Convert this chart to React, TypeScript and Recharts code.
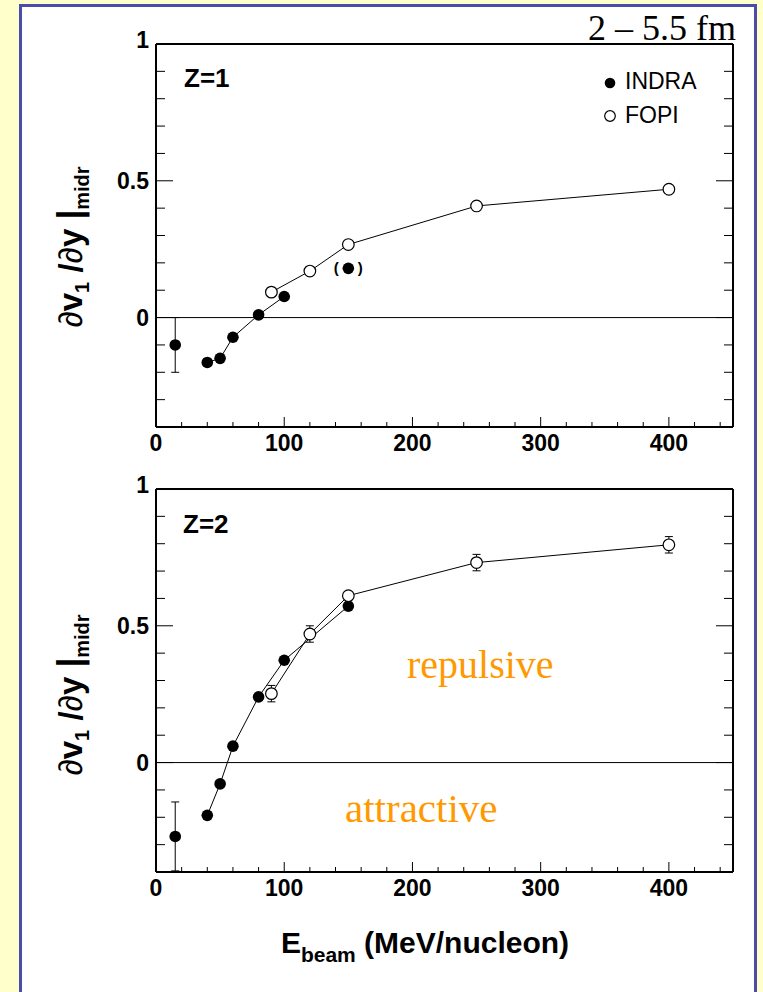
import React from "react";
import { ScatterChart, Scatter, XAxis, YAxis, ReferenceLine, ErrorBar } from "recharts";

// axis ticks
const xTicks = [0, 20, 40, 60, 80, 100, 120, 140, 160, 180, 200, 220, 240, 260, 280, 300, 320, 340, 360, 380, 400, 420, 440];
const yTicks = [-0.4, -0.3, -0.2, -0.1, 0, 0.1, 0.2, 0.3, 0.4, 0.5, 0.6, 0.7, 0.8, 0.9, 1];

// Z=1
const z1IndraLow = [{ e: 15, v: -0.1, err: 0.1 }];
const z1Indra = [
  { e: 40, v: -0.164 },
  { e: 50, v: -0.149 },
  { e: 60, v: -0.072 },
  { e: 80, v: 0.01 },
  { e: 100, v: 0.077 },
];
const z1IndraBracket = [{ e: 150, v: 0.18 }];
const z1Fopi = [
  { e: 90, v: 0.093 },
  { e: 120, v: 0.17 },
  { e: 150, v: 0.267 },
  { e: 250, v: 0.408 },
  { e: 400, v: 0.469 },
];

// Z=2
const z2IndraLow = [{ e: 15, v: -0.27, err: 0.126 }];
const z2Indra = [
  { e: 40, v: -0.193 },
  { e: 50, v: -0.078 },
  { e: 60, v: 0.06 },
  { e: 80, v: 0.24 },
  { e: 100, v: 0.374 },
  { e: 150, v: 0.572 },
];
const z2Fopi = [
  { e: 90, v: 0.252, err: 0.03 },
  { e: 120, v: 0.47, err: 0.03 },
  { e: 150, v: 0.61 },
  { e: 250, v: 0.731, err: 0.03 },
  { e: 400, v: 0.796, err: 0.03 },
];

const SANS = "Liberation Sans, Arial, sans-serif";
const SERIF = "Liberation Serif, Times New Roman, serif";

const isMajorX = (v: number) => v % 100 === 0;
const isMajorY = (v: number) => Math.abs(v * 2 - Math.round(v * 2)) < 1e-9;
const fmtY = (v: number) => (Math.abs(v) < 1e-9 ? "0" : String(Math.round(v * 10) / 10));

const XTickBottom = (p: any) => {
  const major = isMajorX(p.payload.value);
  return (
    <g>
      <line x1={p.x} x2={p.x} y1={p.y} y2={p.y - (major ? 10 : 5)} stroke="#000" strokeWidth={1} />
      {major && (
        <text x={p.x} y={p.y + 24} textAnchor="middle" fontFamily={SANS} fontWeight="bold" fontSize={23} fill="#000">
          {p.payload.value}
        </text>
      )}
    </g>
  );
};

const XTickTop = (p: any) => {
  const major = isMajorX(p.payload.value);
  return <line x1={p.x} x2={p.x} y1={p.y} y2={p.y + (major ? 10 : 5)} stroke="#000" strokeWidth={1} />;
};

const YTickLeft = (p: any) => {
  const v = p.payload.value;
  const major = isMajorY(v);
  return (
    <g>
      <line x1={p.x} x2={p.x + (major ? 17 : 9)} y1={p.y} y2={p.y} stroke="#000" strokeWidth={1} />
      {major && (
        <text x={p.x - 7} y={p.y + (v === 1 ? 4 : 8)} textAnchor="end" fontFamily={SANS} fontWeight="bold" fontSize={23} fill="#000">
          {fmtY(v)}
        </text>
      )}
    </g>
  );
};

const YTickRight = (p: any) => {
  const major = isMajorY(p.payload.value);
  return <line x1={p.x} x2={p.x - (major ? 17 : 9)} y1={p.y} y2={p.y} stroke="#000" strokeWidth={1} />;
};

const filledDot = (p: any) => <circle cx={p.cx} cy={p.cy} r={5.8} fill="#000" />;
const openDot = (p: any) => <circle cx={p.cx} cy={p.cy} r={5.8} fill="#fff" stroke="#000" strokeWidth={1.2} />;
const bracketDot = (p: any) => (
  <g>
    <circle cx={p.cx} cy={p.cy} r={5.8} fill="#000" />
    <text x={p.cx - 12} y={p.cy + 5} textAnchor="middle" fontFamily={SANS} fontWeight="bold" fontSize={15}>(</text>
    <text x={p.cx + 12} y={p.cy + 5} textAnchor="middle" fontFamily={SANS} fontWeight="bold" fontSize={15}>)</text>
  </g>
);

const axisStyle = { stroke: "#000", strokeWidth: 2 };

function Panel({ children }: { children: React.ReactNode }) {
  return (
    <ScatterChart width={763} height={460} margin={{ top: 43, right: 29, bottom: 32, left: 155 }}>
      <XAxis xAxisId="b" type="number" dataKey="e" domain={[0, 450]} allowDataOverflow ticks={xTicks} interval={0}
        height={1} tickSize={0} tickMargin={0} tickLine={false} axisLine={axisStyle} stroke="#000" tick={XTickBottom} />
      <XAxis xAxisId="t" orientation="top" type="number" domain={[0, 450]} allowDataOverflow ticks={xTicks} interval={0}
        height={1} tickSize={0} tickMargin={0} tickLine={false} axisLine={axisStyle} stroke="#000" tick={XTickTop} />
      <YAxis yAxisId="l" type="number" dataKey="v" domain={[-0.4, 1]} allowDataOverflow ticks={yTicks} interval={0}
        width={1} tickSize={0} tickMargin={0} tickLine={false} axisLine={axisStyle} stroke="#000" tick={YTickLeft} />
      <YAxis yAxisId="r" orientation="right" type="number" domain={[-0.4, 1]} allowDataOverflow ticks={yTicks} interval={0}
        width={1} tickSize={0} tickMargin={0} tickLine={false} axisLine={axisStyle} stroke="#000" tick={YTickRight} />
      <ReferenceLine y={0} xAxisId="b" yAxisId="l" stroke="#000" strokeWidth={1} />
      {children}
    </ScatterChart>
  );
}

const lineStyle = { stroke: "#000", strokeWidth: 1 };

export default function App() {
  return (
    <div style={{ position: "absolute", left: 0, top: 0, width: 763, height: 992, background: "#FFFFCC", overflow: "hidden" }}>
      <div style={{ position: "absolute", left: 19, top: 4, width: 738, height: 1000, background: "#fff", border: "3px solid #4b4baa", boxSizing: "border-box" }} />
      <div style={{ position: "absolute", left: 0, top: 0 }}>
        <Panel>
          <Scatter name="INDRA" data={z1IndraLow} xAxisId="b" yAxisId="l" shape={filledDot} isAnimationActive={false}>
            <ErrorBar dataKey="err" direction="y" width={4} stroke="#000" strokeWidth={1} />
          </Scatter>
          <Scatter name="INDRA" data={z1Indra} xAxisId="b" yAxisId="l" shape={filledDot} line={lineStyle} lineType="joint" isAnimationActive={false} />
          <Scatter name="INDRA" data={z1IndraBracket} xAxisId="b" yAxisId="l" shape={bracketDot} isAnimationActive={false} />
          <Scatter name="FOPI" data={z1Fopi} xAxisId="b" yAxisId="l" shape={openDot} line={lineStyle} lineType="joint" isAnimationActive={false} />
        </Panel>
      </div>
      <div style={{ position: "absolute", left: 0, top: 445 }}>
        <Panel>
          <Scatter name="INDRA" data={z2IndraLow} xAxisId="b" yAxisId="l" shape={filledDot} isAnimationActive={false}>
            <ErrorBar dataKey="err" direction="y" width={4} stroke="#000" strokeWidth={1} />
          </Scatter>
          <Scatter name="INDRA" data={z2Indra} xAxisId="b" yAxisId="l" shape={filledDot} line={lineStyle} lineType="joint" isAnimationActive={false} />
          <Scatter name="FOPI" data={z2Fopi} xAxisId="b" yAxisId="l" shape={openDot} line={lineStyle} lineType="joint" isAnimationActive={false}>
            <ErrorBar dataKey="err" direction="y" width={4} stroke="#000" strokeWidth={1} />
          </Scatter>
        </Panel>
      </div>
      <svg width={763} height={992} style={{ position: "absolute", left: 0, top: 0, pointerEvents: "none" }}>
        <text x={736} y={40} textAnchor="end" fontFamily={SERIF} fontSize={36} fill="#000">2 – 5.5 fm</text>

        {/* legend */}
        <circle cx={610} cy={83} r={5.3} fill="#000" />
        <text x={625} y={89} fontFamily={SANS} fontSize={23} fill="#000">INDRA</text>
        <circle cx={610} cy={116} r={5.3} fill="#fff" stroke="#000" strokeWidth={1.2} />
        <text x={625} y={123} fontFamily={SANS} fontSize={23} fill="#000">FOPI</text>

        <text x={184} y={87} fontFamily={SANS} fontWeight="bold" fontSize={26} fill="#000">Z=1</text>
        <text x={183} y={533} fontFamily={SANS} fontWeight="bold" fontSize={26} fill="#000">Z=2</text>

        <text x={407} y={678} fontFamily={SERIF} fontSize={40} fill="#ff9900">repulsive</text>
        <text x={345} y={822} fontFamily={SERIF} fontSize={41} fill="#ff9900">attractive</text>

        {[247, 695].map((cy) => (
          <text key={cy} transform={`translate(82, ${cy}) rotate(-90)`} textAnchor="middle" fontFamily={SANS} fontSize={33} fill="#000">
            <tspan>∂</tspan>
            <tspan fontWeight="bold">v</tspan>
            <tspan fontWeight="bold" fontSize={20} dy={7}>1</tspan>
            <tspan fontWeight="bold" dy={-7}> /</tspan>
            <tspan>∂</tspan>
            <tspan fontWeight="bold">y  </tspan>
            <tspan fontWeight="bold" fontSize={35}>|</tspan>
            <tspan fontWeight="bold" fontSize={20} dy={7}>midr</tspan>
          </text>
        ))}

        <text x={425} y={953} textAnchor="middle" fontFamily={SANS} fontWeight="bold" fontSize={30} fill="#000">
          E<tspan fontSize={21} dy={9}>beam</tspan>
          <tspan dy={-9}> (MeV/nucleon)</tspan>
        </text>
      </svg>
    </div>
  );
}
